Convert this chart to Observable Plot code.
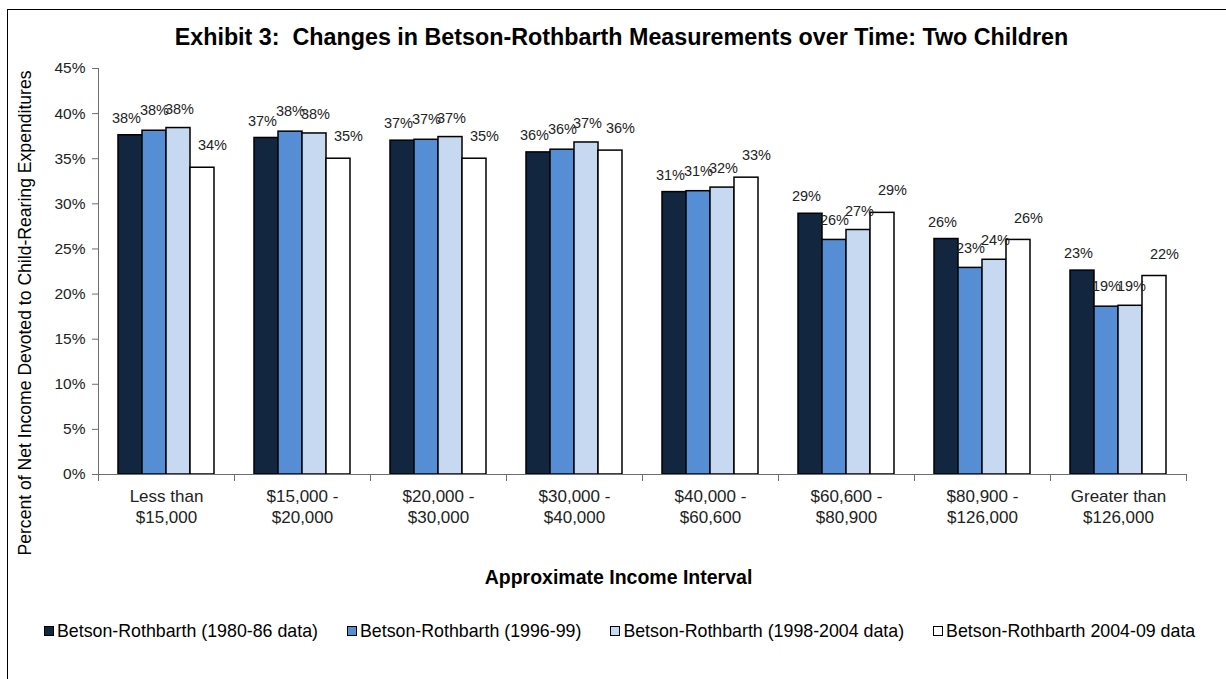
<!DOCTYPE html>
<html>
<head>
<meta charset="utf-8">
<script src="https://cdn.jsdelivr.net/npm/d3@7"></script>
<script src="https://cdn.jsdelivr.net/npm/@observablehq/plot@0.6"></script>
<style>
  html, body { margin: 0; padding: 0; background: #fff; }
  #wrap { position: relative; width: 1226px; height: 679px; overflow: hidden; background: #fff;
          font-family: "Liberation Sans", Arial, sans-serif; color: #000; }
  #border { position: absolute; left: 7px; top: 9px; width: 1400px; height: 900px; border: 1px solid #000; }
  #title { position: absolute; left: 0; top: 24px; width: 1243px; text-align: center; font-weight: bold;
           font-size: 23.3px; line-height: 26px; white-space: pre; }
  #ylabel { position: absolute; left: 25px; top: 313px; transform: translate(-50%, -50%) rotate(-90deg);
            white-space: nowrap; font-size: 17.6px; line-height: 20px; }
  #chart { position: absolute; left: 0; top: 44px; }
  #xtitle { position: absolute; left: 0; width: 1237px; top: 565px; text-align: center; font-weight: bold;
            font-size: 19.5px; line-height: 24px; }
  #legend { position: absolute; left: 44px; top: 620px; display: flex; gap: 29px; font-size: 17.8px; line-height: 22px; }
  .li { display: flex; align-items: center; gap: 3px; white-space: nowrap; }
  .sw { width: 8px; height: 8px; border: 1px solid #000; display: inline-block; }
</style>
</head>
<body>
<div id="wrap">
  <div id="border"></div>
  <div id="title"></div>
  <div id="ylabel"></div>
  <div id="chart"></div>
  <div id="xtitle"></div>
  <div id="legend"></div>
</div>
<script>
const titleText = "Exhibit 3:  Changes in Betson-Rothbarth Measurements over Time: Two Children";
const yTitle = "Percent of Net Income Devoted to Child-Rearing Expenditures";
const xTitle = "Approximate Income Interval";

const categories = [
  "Less than\n$15,000",
  "$15,000 -\n$20,000",
  "$20,000 -\n$30,000",
  "$30,000 -\n$40,000",
  "$40,000 -\n$60,600",
  "$60,600 -\n$80,900",
  "$80,900 -\n$126,000",
  "Greater than\n$126,000"
];
const series = [
  "Betson-Rothbarth (1980-86 data)",
  "Betson-Rothbarth (1996-99)",
  "Betson-Rothbarth (1998-2004 data)",
  "Betson-Rothbarth 2004-09 data"
];
const values1980 = [37.6, 37.3, 37.0, 35.7, 31.3, 28.9, 26.1, 22.6];
const values1996 = [38.1, 38.0, 37.1, 36.0, 31.4, 26.0, 22.9, 18.6];
const values1998 = [38.4, 37.8, 37.4, 36.8, 31.8, 27.1, 23.8, 18.7];
const values2004 = [34.0, 35.0, 35.0, 35.9, 32.9, 29.0, 26.0, 22.0];
const yTicks = [0, 5, 10, 15, 20, 25, 30, 35, 40, 45];
const colors = ["#12263f", "#558ed5", "#c6d9f1", "#ffffff"];

const seriesValues = [values1980, values1996, values1998, values2004];
const data = [];
categories.forEach((cat, i) => {
  series.forEach((s, j) => data.push({cat, series: s, value: seriesValues[j][i]}));
});

document.getElementById("title").textContent = titleText;
document.getElementById("ylabel").textContent = yTitle;
document.getElementById("xtitle").textContent = xTitle;

const legend = document.getElementById("legend");
series.forEach((s, j) => {
  const item = document.createElement("div");
  item.className = "li";
  const sw = document.createElement("span");
  sw.className = "sw";
  sw.style.background = colors[j];
  const t = document.createElement("span");
  t.textContent = s;
  item.appendChild(sw);
  item.appendChild(t);
  legend.appendChild(item);
});

// per-series label offsets (style only)
const labelOffsets = [{dx: -4, dy: -17}, {dx: 0, dy: -20}, {dx: 1, dy: -19}, {dx: 10, dy: -22}];

const axisColor = "#6e6e6e";
const chart = Plot.plot({
  width: 1226,
  height: 556,
  marginLeft: 94,
  marginRight: 37,
  marginTop: 24,
  marginBottom: 126,
  style: {fontFamily: "'Liberation Sans', Arial, sans-serif", fontSize: "15.5px", color: "#000", background: "transparent", overflow: "visible"},
  fx: {domain: categories, padding: 0, label: null},
  x: {domain: series, paddingInner: 0, paddingOuter: 0.755, axis: null},
  y: {domain: [0, 45], label: null},
  color: {domain: series, range: colors},
  marks: [
    Plot.barY(data, {fx: "cat", x: "series", y: "value", fill: "series", stroke: "#000", strokeWidth: 1.5}),
    Plot.ruleY([0], {stroke: axisColor}),
    Plot.frame({anchor: "left", facet: "super", insetBottom: -6, stroke: axisColor}),
    Plot.frame({anchor: "right", insetTop: 406, insetBottom: -6, stroke: axisColor}),
    Plot.axisY({ticks: yTicks, tickFormat: d => d + "%", tickSize: 6, tickPadding: 7, fontSize: 15.5, stroke: axisColor, fill: "#222", label: null}),
    Plot.axisFx({anchor: "bottom", tickSize: 0, tickPadding: 13, fontSize: 17, lineHeight: 1.22, fill: "#222", label: null}),
    ...series.map((s, j) => Plot.text(data.filter(d => d.series === s), {
      fx: "cat", x: "series", y: "value", text: d => Math.round(d.value) + "%",
      dx: labelOffsets[j].dx, dy: labelOffsets[j].dy, fontSize: 14.5, fill: "#222"
    }))
  ]
});
document.getElementById("chart").appendChild(chart);
</script>
</body>
</html>
